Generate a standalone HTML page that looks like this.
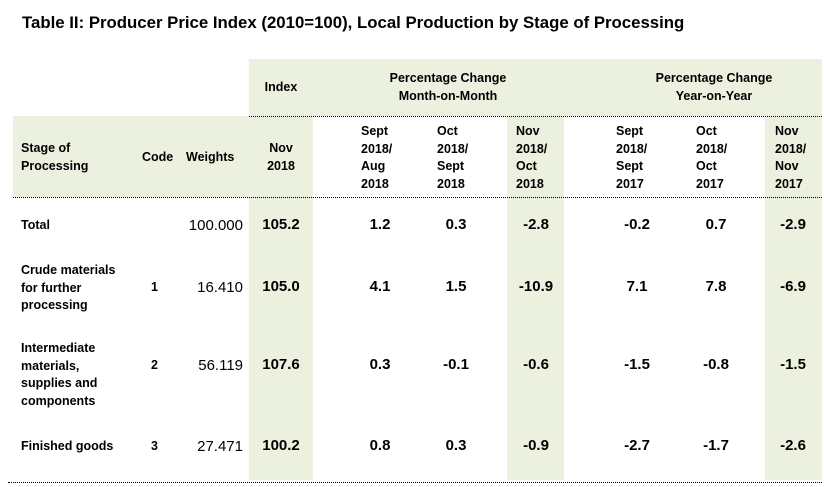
<!DOCTYPE html>
<html><head><meta charset="utf-8"><style>
body{margin:0;width:824px;height:487px;background:#fff;position:relative;overflow:hidden;font-family:"Liberation Sans",Arial,sans-serif;color:#000}
.g{position:absolute;background:#ebf1de}
.t{position:absolute;font-weight:bold;font-size:12.5px;line-height:17.5px;white-space:nowrap}
.c{transform:translateX(-50%);text-align:center}
.n{position:absolute;font-weight:bold;font-size:15px;transform:translateX(-50%);white-space:nowrap}
.d{position:absolute;height:0;border-top:1px dotted #000}
.w{position:absolute;font-size:15px;white-space:nowrap}
</style></head><body>
<div class="t" style="left:22px;top:13px;font-size:16.8px;line-height:20px">Table II: Producer Price Index (2010=100), Local Production by Stage of Processing</div>
<div class="g" style="left:249px;top:59px;width:573px;height:57px"></div>
<div class="g" style="left:13px;top:116px;width:300px;height:81px"></div>
<div class="g" style="left:249px;top:197px;width:64px;height:283px"></div>
<div class="g" style="left:507px;top:116px;width:57px;height:364px"></div>
<div class="g" style="left:765px;top:116px;width:57px;height:364px"></div>
<div class="d" style="left:249px;top:116px;width:573px"></div>
<div class="d" style="left:13px;top:197px;width:809px"></div>
<div class="d" style="left:8px;top:482px;width:814px"></div>

<div class="t c" style="left:281px;top:79px">Index</div>
<div class="t c" style="left:448px;top:70px">Percentage Change<br>Month-on-Month</div>
<div class="t c" style="left:714px;top:70px">Percentage Change<br>Year-on-Year</div>

<div class="t" style="left:21px;top:140px">Stage of<br>Processing</div>
<div class="t" style="left:142px;top:149px">Code</div>
<div class="t" style="left:186px;top:149px">Weights</div>
<div class="t c" style="left:281px;top:140px">Nov<br>2018</div>
<div class="t" style="left:361px;top:123px">Sept<br>2018/<br>Aug<br>2018</div>
<div class="t" style="left:437px;top:123px">Oct<br>2018/<br>Sept<br>2018</div>
<div class="t" style="left:516px;top:123px">Nov<br>2018/<br>Oct<br>2018</div>
<div class="t" style="left:616px;top:123px">Sept<br>2018/<br>Sept<br>2017</div>
<div class="t" style="left:696px;top:123px">Oct<br>2018/<br>Oct<br>2017</div>
<div class="t" style="left:775px;top:123px">Nov<br>2018/<br>Nov<br>2017</div>

<div class="t" style="left:21px;top:217px">Total</div>
<div class="w" style="right:581px;top:217px">100.000</div>
<div class="n" style="left:281px;top:216px">105.2</div>
<div class="n" style="left:380px;top:216px">1.2</div>
<div class="n" style="left:456px;top:216px">0.3</div>
<div class="n" style="left:536px;top:216px">-2.8</div>
<div class="n" style="left:637px;top:216px">-0.2</div>
<div class="n" style="left:716px;top:216px">0.7</div>
<div class="n" style="left:793px;top:216px">-2.9</div>

<div class="t" style="left:21px;top:262px">Crude materials<br>for further<br>processing</div>
<div class="t" style="left:151px;top:279px">1</div>
<div class="w" style="right:581px;top:279px">16.410</div>
<div class="n" style="left:281px;top:278px">105.0</div>
<div class="n" style="left:380px;top:278px">4.1</div>
<div class="n" style="left:456px;top:278px">1.5</div>
<div class="n" style="left:536px;top:278px">-10.9</div>
<div class="n" style="left:637px;top:278px">7.1</div>
<div class="n" style="left:716px;top:278px">7.8</div>
<div class="n" style="left:793px;top:278px">-6.9</div>

<div class="t" style="left:21px;top:340px">Intermediate<br>materials,<br>supplies and<br>components</div>
<div class="t" style="left:151px;top:357px">2</div>
<div class="w" style="right:581px;top:357px">56.119</div>
<div class="n" style="left:281px;top:356px">107.6</div>
<div class="n" style="left:380px;top:356px">0.3</div>
<div class="n" style="left:456px;top:356px">-0.1</div>
<div class="n" style="left:536px;top:356px">-0.6</div>
<div class="n" style="left:637px;top:356px">-1.5</div>
<div class="n" style="left:716px;top:356px">-0.8</div>
<div class="n" style="left:793px;top:356px">-1.5</div>

<div class="t" style="left:21px;top:438px">Finished goods</div>
<div class="t" style="left:151px;top:438px">3</div>
<div class="w" style="right:581px;top:438px">27.471</div>
<div class="n" style="left:281px;top:437px">100.2</div>
<div class="n" style="left:380px;top:437px">0.8</div>
<div class="n" style="left:456px;top:437px">0.3</div>
<div class="n" style="left:536px;top:437px">-0.9</div>
<div class="n" style="left:637px;top:437px">-2.7</div>
<div class="n" style="left:716px;top:437px">-1.7</div>
<div class="n" style="left:793px;top:437px">-2.6</div>
</body></html>
